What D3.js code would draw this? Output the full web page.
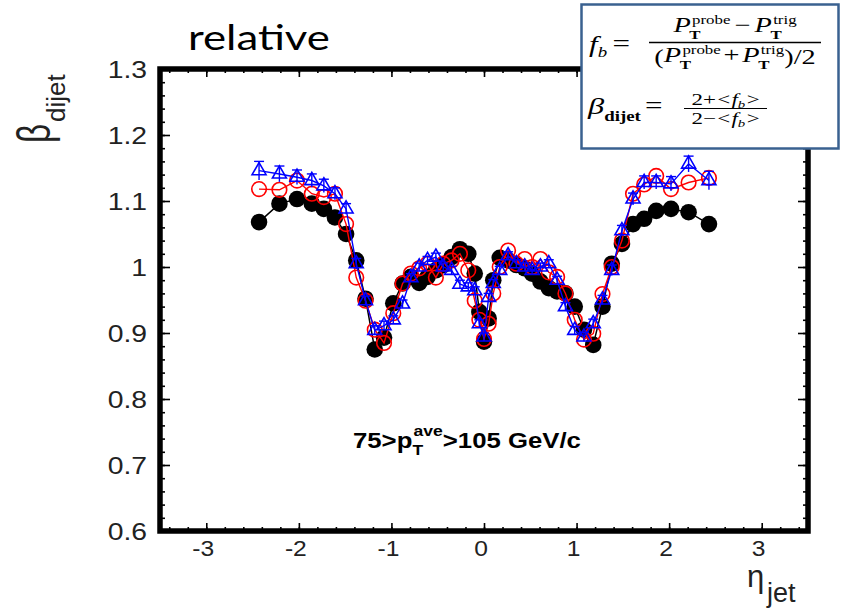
<!DOCTYPE html>
<html><head><meta charset="utf-8">
<script src="https://cdn.jsdelivr.net/npm/d3@7"></script>
<style>body{margin:0;background:#fff}svg{display:block}</style>
</head><body><svg id="c" width="841" height="611"></svg>
<script>
// ---------------- data ----------------
const eta = [-2.43,-2.21,-2.02,-1.86,-1.73,-1.61,-1.49,-1.38,-1.28,-1.18,-1.08,-0.98,-0.88,-0.79,-0.70,-0.61,-0.52,-0.44,-0.35,-0.26,-0.17,-0.10,-0.05,0.00,0.05,0.10,0.17,0.26,0.35,0.44,0.52,0.61,0.70,0.79,0.88,0.98,1.08,1.18,1.28,1.38,1.49,1.61,1.73,1.86,2.02,2.21,2.43];
const betaBlack = [1.068,1.096,1.103,1.096,1.088,1.075,1.050,1.010,0.952,0.875,0.893,0.945,0.975,0.985,0.976,0.985,0.995,1.003,1.015,1.027,1.020,0.990,0.932,0.887,0.922,0.980,1.014,1.010,1.003,0.998,0.990,0.978,0.968,0.963,0.960,0.940,0.905,0.882,0.940,1.005,1.035,1.065,1.073,1.085,1.088,1.083,1.065];
const betaRed = [1.118,1.117,1.131,1.111,1.106,1.111,1.065,0.984,0.949,0.905,0.885,0.930,0.975,0.990,0.998,1.005,0.984,1.005,1.010,1.020,0.995,0.949,0.920,0.891,0.914,0.960,1.000,1.025,1.005,1.012,1.000,1.012,0.992,0.985,0.960,0.920,0.890,0.899,0.959,1.000,1.040,1.111,1.125,1.138,1.118,1.128,1.135];
const betaBlue = [1.146,1.141,1.136,1.131,1.123,1.111,1.088,1.005,0.949,0.904,0.911,0.920,0.944,0.984,1.000,1.010,1.015,1.000,0.995,0.974,0.970,0.964,0.914,0.894,0.954,0.975,0.995,1.017,1.005,1.000,0.995,1.000,1.005,0.980,0.940,0.904,0.894,0.914,0.950,0.995,1.055,1.103,1.128,1.128,1.126,1.156,1.131];
const errBlue = [0.014,0.012,0.011,0.010,0.010,0.009,0.008,0.008,0.007,0.007,0.007,0.006,0.006,0.006,0.006,0.006,0.006,0.006,0.006,0.006,0.006,0.006,0.006,0.006,0.006,0.006,0.006,0.006,0.006,0.006,0.006,0.006,0.006,0.006,0.006,0.006,0.007,0.007,0.007,0.008,0.008,0.009,0.010,0.010,0.011,0.012,0.014];
const xTicks = [-3,-2,-1,0,1,2,3];
const xTickLabels = ["-3","-2","-1","0","1","2","3"];
const yTicks = [0.6,0.7,0.8,0.9,1.0,1.1,1.2,1.3];
const yTickLabels = ["0.6","0.7","0.8","0.9","1","1.1","1.2","1.3"];
const titleText = "relative";
const annotation = {pre:"75>p", sub:"T", sup:"ave", post:">105 GeV/c"};

// ---------------- setup ----------------
const svg = d3.select('#c');
svg.append('rect').attr('width',841).attr('height',611).attr('fill','#fff');
const x = d3.scaleLinear().domain([-3.5,3.5]).range([160,808]);
const y = d3.scaleLinear().domain([0.6,1.3]).range([531,69]);
const SANS = "'Liberation Sans', Arial, sans-serif";
const SERIF = "'Liberation Serif', 'Times New Roman', serif";

function stretchText(parent, x0, y0, str, o) {
  return parent.append('text')
    .attr('transform', `translate(${x0},${y0}) scale(${o.sx||1},1)`)
    .attr('text-anchor', o.anchor||'start')
    .attr('font-family', o.ff||SANS)
    .attr('font-size', o.fs)
    .attr('font-weight', o.bd?'bold':'normal')
    .attr('font-style', o.it?'italic':'normal')
    .attr('fill', o.fill||'#000')
    .text(str);
}

// ---------------- ticks ----------------
const plot = svg.append('g');
const minorY = d3.range(0.6, 1.3001, 0.02).map(v=>+v.toFixed(2));
const minorX = d3.range(-3.4, 3.4001, 0.2).map(v=>+v.toFixed(1));
function axisTicks(axisFn, scale, vals, size, transform) {
  const g = plot.append('g').attr('transform', transform)
    .call(axisFn(scale).tickValues(vals).tickSize(size).tickFormat(''));
  g.select('.domain').remove();
  g.selectAll('line').attr('stroke','#000').attr('stroke-width',1.6);
}
axisTicks(d3.axisLeft, y, minorY, -5, 'translate(160,0)');
axisTicks(d3.axisLeft, y, yTicks, -10, 'translate(160,0)');
axisTicks(d3.axisRight, y, minorY, -5, 'translate(808,0)');
axisTicks(d3.axisRight, y, yTicks, -10, 'translate(808,0)');
axisTicks(d3.axisBottom, x, minorX, -4, 'translate(0,531)');
axisTicks(d3.axisBottom, x, xTicks, -8, 'translate(0,531)');
axisTicks(d3.axisTop, x, minorX, -4, 'translate(0,69)');
axisTicks(d3.axisTop, x, xTicks, -8, 'translate(0,69)');

// frame
plot.append('rect').attr('x',x(-3.5)).attr('y',y(1.3))
  .attr('width',x(3.5)-x(-3.5)).attr('height',y(0.6)-y(1.3))
  .attr('fill','none').attr('stroke','#000').attr('stroke-width',5.5);

// tick labels
yTicks.forEach((v,i)=>stretchText(svg, 147, y(v)+8.5, yTickLabels[i], {fs:24, sx:1.18, anchor:'end', fill:'#222'}));
xTicks.forEach((v,i)=>stretchText(svg, x(v)-3, 556, xTickLabels[i], {fs:22, sx:1.12, anchor:'middle', fill:'#222'}));

// ---------------- data marks ----------------
const data = s => eta.map((e,i)=>({e, v:s[i]}));
const line = d3.line().x(d=>x(d.e)).y(d=>y(d.v));
const marks = svg.append('g');

// black
marks.append('path').datum(data(betaBlack)).attr('d',line).attr('fill','none').attr('stroke','#000').attr('stroke-width',1.5);
marks.selectAll('.blk').data(data(betaBlack)).join('circle').attr('class','blk')
  .attr('cx',d=>x(d.e)).attr('cy',d=>y(d.v)).attr('r',8.3).attr('fill','#000');

// red
const redD = data(betaRed);
marks.append('path').datum(redD).attr('d',line).attr('fill','none').attr('stroke','#f00').attr('stroke-width',1.4);
marks.selectAll('.red').data(redD).join('circle').attr('class','red')
  .attr('cx',d=>x(d.e)).attr('cy',d=>y(d.v)).attr('r',7.3)
  .attr('fill','none').attr('stroke','#f00').attr('stroke-width',1.6);

// blue
const blueD = eta.map((e,i)=>({e, v:betaBlue[i], err:errBlue[i]}));
marks.append('path').datum(blueD).attr('d',line).attr('fill','none').attr('stroke','#00f').attr('stroke-width',1.4);
const be = marks.selectAll('.berr').data(blueD).join('g').attr('class','berr');
be.append('line').attr('x1',d=>x(d.e)).attr('x2',d=>x(d.e)).attr('y1',d=>y(d.v-d.err)).attr('y2',d=>y(d.v+d.err))
  .attr('stroke','#00f').attr('stroke-width',1.4);
be.append('line').attr('x1',d=>x(d.e)-5).attr('x2',d=>x(d.e)+5).attr('y1',d=>y(d.v+d.err)).attr('y2',d=>y(d.v+d.err))
  .attr('stroke','#00f').attr('stroke-width',1.4);
const tri = d3.symbol().type(d3.symbolTriangle).size(85);
marks.selectAll('.blu').data(blueD).join('path').attr('class','blu')
  .attr('d',tri).attr('transform',d=>`translate(${x(d.e)},${y(d.v)})`)
  .attr('fill','none').attr('stroke','#00f').attr('stroke-width',1.6);

// ---------------- text ----------------
function addText(parent, tx, ty, s) {
  return parent.append('text').attr('x',tx).attr('y',ty)
    .attr('font-size',s.fs).attr('font-family',s.ff||SERIF)
    .attr('font-style',s.it?'italic':'normal').attr('font-weight',s.bd?'bold':'normal')
    .attr('fill','#000').text(s.t);
}
function chain(parent, items) {
  let cx = 0;
  items.forEach(it=>{
    if (it.stack) {
      let w = 0;
      it.stack.forEach(s=>{ const t = addText(parent, cx+(s.dx||0), s.y, s); w = Math.max(w, t.node().getComputedTextLength()+(s.dx||0)); });
      cx += w;
    } else {
      cx += it.gap||0;
      const t = addText(parent, cx, it.y, it);
      cx += t.node().getComputedTextLength() + (it.gapAfter||0);
    }
  });
  return cx;
}

// annotation
const ann = svg.append('g').attr('transform','translate(353,0) scale(1.17,1)');
chain(ann, [
  {t:annotation.pre, fs:22, bd:true, ff:SANS, y:448},
  {stack:[{t:annotation.sup, fs:15, bd:true, ff:SANS, y:436, dx:1},{t:annotation.sub, fs:15, bd:true, ff:SANS, y:455, dx:0}]},
  {t:annotation.post, fs:22, bd:true, ff:SANS, y:448}
]);

// title
stretchText(svg, 188, 50, titleText, {fs:35, sx:1.25, ff:"Lato, 'Open Sans', sans-serif"});

// y axis title
const yt = svg.append('g').attr('transform','translate(50,143) rotate(-90)');
yt.append('text').attr('transform','scale(0.72,1)').attr('font-family',SANS).attr('font-size',46).attr('fill','#222').text('β');
yt.append('text').attr('x',21).attr('y',15).attr('font-family',SANS).attr('font-size',26).attr('fill','#222').text('dijet');

// x axis title
svg.append('text').attr('x',747).attr('y',587).attr('font-family',SANS).attr('font-size',31).attr('fill','#222').text('η');
svg.append('text').attr('x',767).attr('y',602).attr('font-family',SANS).attr('font-size',27).attr('fill','#222').text('jet');

// ---------------- formula box ----------------
svg.append('rect').attr('x',581.5).attr('y',4.5).attr('width',257).attr('height',144)
  .attr('fill','#fff').attr('stroke','#3a6190').attr('stroke-width',2.5);
const FS = 1.35;
const f1 = svg.append('g').attr('transform',`translate(589,0) scale(${FS},1)`);
chain(f1, [{t:'f', fs:23, it:true, y:52},{t:'b', fs:14, it:true, y:57},{t:'=', fs:23, y:51, gap:4}]);
const barL = (649-589)/FS, barR = (821-589)/FS;
f1.append('line').attr('x1',barL).attr('x2',barR).attr('y1',42.5).attr('y2',42.5).attr('stroke','#000').attr('stroke-width',1.3);
const num = f1.append('g');
const wN = chain(num, [
  {t:'P', fs:21, it:true, y:32},
  {stack:[{t:'probe', fs:12.5, y:24, dx:1},{t:'T', fs:12.5, bd:true, y:39, dx:-1}]},
  {t:'−', fs:21, y:32, gap:3, gapAfter:3},
  {t:'P', fs:21, it:true, y:32},
  {stack:[{t:'trig', fs:12.5, y:24, dx:1},{t:'T', fs:12.5, bd:true, y:39, dx:-1}]}
]);
num.attr('transform',`translate(${(barL+barR)/2 - wN/2},0)`);
const den = f1.append('g');
const wD = chain(den, [
  {t:'(', fs:21, y:64},
  {t:'P', fs:21, it:true, y:62},
  {stack:[{t:'probe', fs:12.5, y:54, dx:1},{t:'T', fs:12.5, bd:true, y:69, dx:-1}]},
  {t:'+', fs:21, y:62, gap:2, gapAfter:2},
  {t:'P', fs:21, it:true, y:62},
  {stack:[{t:'trig', fs:12.5, y:54, dx:1},{t:'T', fs:12.5, bd:true, y:69, dx:-1}]},
  {t:')/2', fs:21, y:64}
]);
den.attr('transform',`translate(${(barL+barR)/2 - wD/2},0)`);

const f2 = svg.append('g').attr('transform',`translate(588,0) scale(${FS},1)`);
chain(f2, [{t:'β', fs:24, it:true, y:114},{t:'dijet', fs:14, bd:true, y:121},{t:'=', fs:23, y:113, gap:3}]);
const b2L = (684-588)/FS, b2R = (767-588)/FS;
f2.append('line').attr('x1',b2L).attr('x2',b2R).attr('y1',108.5).attr('y2',108.5).attr('stroke','#000').attr('stroke-width',1.2);
const n2 = f2.append('g');
const wn2 = chain(n2, [{t:'2+', fs:17, y:105},{t:'<', fs:17, y:105, gap:1, gapAfter:1},{t:'f', fs:17, it:true, y:105},{t:'b', fs:11, it:true, y:108},{t:'>', fs:17, y:105, gap:1}]);
n2.attr('transform',`translate(${(b2L+b2R)/2 - wn2/2},0)`);
const d2 = f2.append('g');
const wd2 = chain(d2, [{t:'2−', fs:17, y:124},{t:'<', fs:17, y:124, gap:1, gapAfter:1},{t:'f', fs:17, it:true, y:124},{t:'b', fs:11, it:true, y:127},{t:'>', fs:17, y:124, gap:1}]);
d2.attr('transform',`translate(${(b2L+b2R)/2 - wd2/2},0)`);
</script></body></html>
